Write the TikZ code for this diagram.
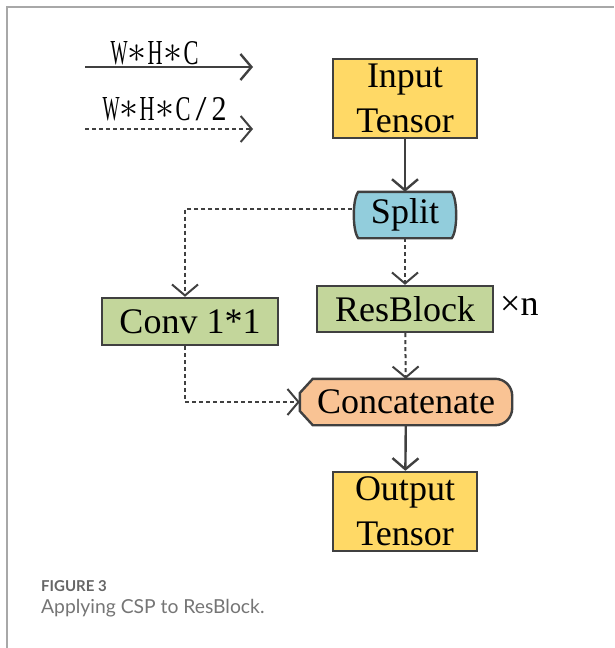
\documentclass[tikz,border=0pt]{standalone}
\usepackage{fontspec}
\usepackage{graphicx}
\setmainfont{Liberation Serif}
\newfontfamily\capfont{Lato}
\usetikzlibrary{arrows.meta,backgrounds,calc}

\definecolor{edge}{HTML}{404040}
\definecolor{tensorfill}{HTML}{FFD966}
\definecolor{splitfill}{HTML}{92CDDC}
\definecolor{convfill}{HTML}{C3D69B}
\definecolor{catfill}{HTML}{F9C394}
\definecolor{framegray}{HTML}{A8A8A8}
\definecolor{capgray}{HTML}{666666}

% one fixed-width cell of the legend labels
\newcommand\legcell[2][15pt]{\makebox[18pt]{\resizebox{#1}{23pt}{#2}}}
\newcommand\legstar{\makebox[18pt]{\raisebox{2pt}{\resizebox{19pt}{!}{$\ast$}}}}

\tikzset{
  boxtext/.style={font=\fontsize{36}{45}\selectfont, inner sep=0pt, align=center},
  block/.style={boxtext, draw=edge, line width=2.4pt},
  full/.style={draw=edge, line width=2.4pt,
    -{Straight Barb[length=11pt,width=26pt]}},
  half/.style={full, line width=2pt, dash pattern=on 4pt off 3pt},
  legendtext/.style={inner sep=0pt, anchor=base, font=\fontsize{34}{40}\selectfont},
}

\begin{document}
\begin{tikzpicture}[x=1pt,y=-1pt]
\useasboundingbox (0,0) rectangle (614,648);

% frame of the figure panel
\draw[framegray, line width=1.6pt] (7,648) -- (7,7) -- (614,7);

% legend: full and half channel paths
\coordinate (fa) at (85,67);
\coordinate (fb) at (253,67);
\coordinate (ha) at (85,129);
\coordinate (hb) at (253,129);
\draw[full] (fa) -- (fb);
\draw[half] (ha) -- (hb);
\node[legendtext] (fulllab) at (155,64)
  {\legcell[17pt]{W}\legstar\legcell{H}\legstar\legcell{C}};
\node[legendtext] (halflab) at (165,120)
  {\legcell[17pt]{W}\legstar\legcell{H}\legstar\legcell{C}\legcell[11pt]{/}\legcell{2}};

% main blocks
\node[block, fill=tensorfill, minimum width=144pt, minimum height=79pt]
  (input) at (405,98.5) {Input\\Tensor};

\node[boxtext, minimum width=105pt, minimum height=46pt] (split) at (405,215) {Split};
\node[block, fill=convfill, minimum width=176pt, minimum height=47pt]
  (conv) at (190,321.5) {Conv 1*1};
\node[block, fill=convfill, minimum width=176pt, minimum height=46pt]
  (res) at (405,309) {ResBlock};
\node[boxtext, anchor=west] (times) at (500,306) {×n};
\node[boxtext, minimum width=212pt, minimum height=46pt] (cat) at (406,402) {Concatenate};
\node[block, fill=tensorfill, minimum width=144pt, minimum height=79pt]
  (output) at (405,511.5) {Output\\Tensor};

% outlines of the split and concatenate blocks
\begin{pgfonlayer}{background}
  \draw[draw=edge, line width=2.4pt, fill=splitfill]
    ($(split.north west)+(6,0)$) -- ($(split.north east)+(-6,0)$)
    .. controls ($(split.east)+(0,-16)$) and ($(split.east)+(0,16)$) ..
    ($(split.south east)+(-6,0)$) -- ($(split.south west)+(6,0)$)
    .. controls ($(split.west)+(0,16)$) and ($(split.west)+(0,-16)$) ..
    cycle;
  \draw[draw=edge, line width=2.4pt, fill=catfill]
    ($(cat.north west)+(13,0)$)
    {[rounded corners=17pt] -- (cat.north east) -- (cat.south east)}
    -- ($(cat.south west)+(13,0)$) -- ($(cat.west)+(0,9)$)
    -- ($(cat.west)+(0,-9)$) -- cycle;
\end{pgfonlayer}

% connectors
\draw[full] (input) -- (split);
\draw[half] (split) -- (res);
\draw[half] (res) -- (cat);
\draw[full] (cat) -- (output);
\draw[half] ($(split.west)+(0,-6)$) -| ($(conv.north)+(-5,0)$);
\draw[half] ($(conv.south)+(-5,0)$) |- (cat.west);

% caption
\node[anchor=base west, inner sep=0pt, text=capgray,
  font=\capfont\bfseries\fontsize{15}{18}\selectfont] (fig) at (41,591) {FIGURE 3};
\node[anchor=base west, inner sep=0pt, text=capgray!90,
  font=\capfont\fontsize{19.3}{22}\selectfont] (cap) at (41,613) {Applying CSP to ResBlock.};
\end{tikzpicture}
\end{document}
